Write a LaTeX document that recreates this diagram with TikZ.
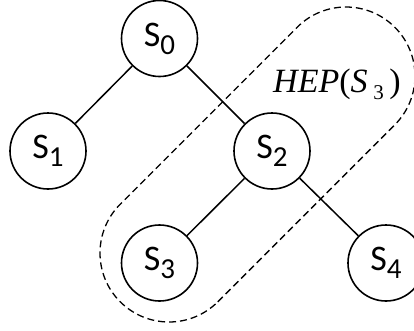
\documentclass[tikz,border=0pt]{standalone}
\usepackage{fontspec}
\setmainfont{Carlito}
\newfontfamily\timesfont{Liberation Serif}
\tikzset{
  x=1pt, y=1pt,
  state/.style={circle, draw, line width=1.6pt, minimum size=76pt, inner sep=0pt,
    font=\fontsize{36}{40}\selectfont},
  edge/.style={line width=1.5pt},
  hull/.style={line width=1.3pt, dash pattern=on 7pt off 4pt},
}
\newcommand{\stt}[1]{S\raisebox{-8pt}{\fontsize{29}{30}\selectfont #1}}
\begin{document}
\begin{tikzpicture}
\useasboundingbox (0,0) rectangle (414,330);
\node[state] (s0) at (159.5,291.5) {\stt{0}};
\node[state] (s1) at (48,179) {\stt{1}};
\node[state] (s2) at (272,179) {\stt{2}};
\node[state] (s3) at (159.5,67) {\stt{3}};
\node[state] (s4) at (386,67) {\stt{4}};
\draw[edge] (s0) -- (s1);
\draw[edge] (s0) -- (s2);
\draw[edge] (s2) -- (s3);
\draw[edge] (s2) -- (s4);
\begin{scope}[shift={(169,77)}, rotate=45]
\draw[hull] (0,-69) -- (250.3,-69) arc[start angle=-90, end angle=90, radius=69]
  -- (0,69) arc[start angle=90, end angle=270, radius=69] -- cycle;
\end{scope}
\node[anchor=base, inner sep=0pt, font=\timesfont\fontsize{34}{36}\selectfont] (hep) at (337,238)
  {\textit{HEP}(\textit{S}\,\raisebox{-7pt}{\fontsize{21}{22}\selectfont 3}\,)};
\end{tikzpicture}
\end{document}
